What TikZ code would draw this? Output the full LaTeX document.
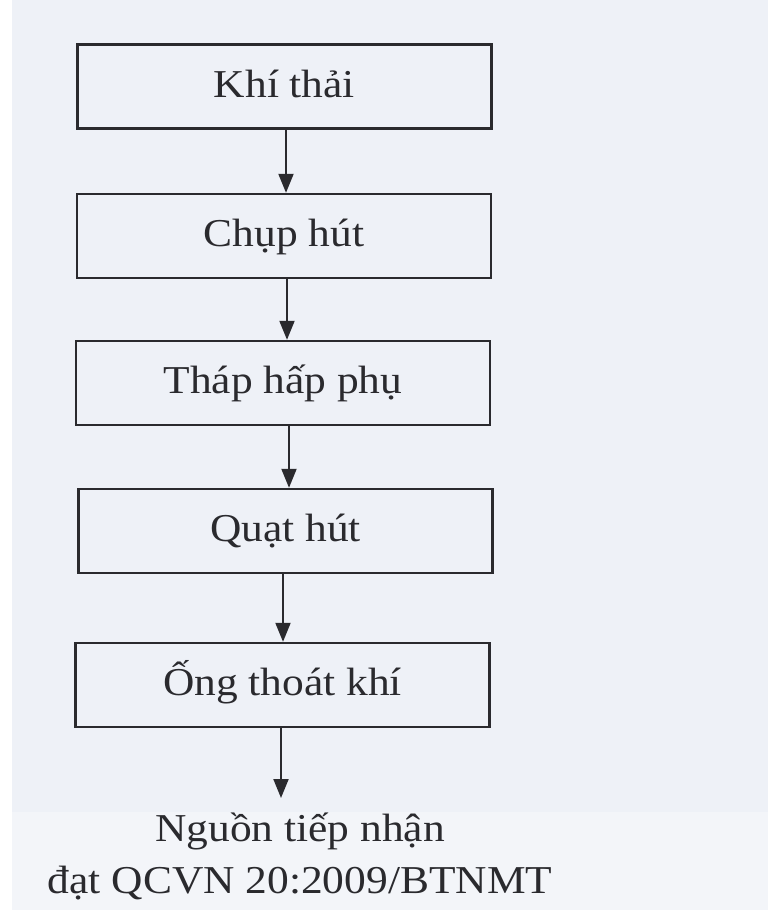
\documentclass[tikz,border=0pt]{standalone}
\usepackage{fontspec}
\setmainfont{Liberation Serif}[FakeStretch=1.1]
\usetikzlibrary{arrows.meta}
\definecolor{paper}{HTML}{EEF1F7}
\definecolor{paperlow}{HTML}{F3F5F9}
\definecolor{ink}{HTML}{2A2A2E}
\tikzset{
  stepbox/.style={draw=ink, line width=2.4pt, minimum width=414pt, minimum height=84pt,
    inner sep=0pt, text=ink, text height=28pt, text depth=7pt, font=\fontsize{39.5}{52}\selectfont},
  flow/.style={draw=ink, line width=2pt, -{Triangle[width=15pt,length=19pt]}},
  outtext/.style={align=center, inner sep=0pt, text=ink, font=\fontsize{39.5}{52}\selectfont}
}
\begin{document}
\begin{tikzpicture}[x=1pt,y=-1pt]
\useasboundingbox (0,0) rectangle (768,910);
\fill[paper] (0,0) rectangle (768,910);
\fill[white] (0,0) rectangle (12,910);
\fill[paperlow] (12,812) rectangle (768,910);
\node[stepbox] (b1) at (284.5,86.5) {Khí thải};
\node[stepbox] (b2) at (284,236) {Chụp hút};
\node[stepbox] (b3) at (283,383) {Tháp hấp phụ};
\node[stepbox] (b4) at (285.5,531) {Quạt hút};
\node[stepbox] (b5) at (282.5,685) {Ống thoát khí};
\coordinate (end) at (281,798);
\node[outtext] (out) at (300,856) {Nguồn tiếp nhận\\đạt QCVN 20:2009/BTNMT};
\draw[flow] ([xshift=1.5pt]b1.south) -- ([xshift=2pt]b2.north);
\draw[flow] ([xshift=3pt]b2.south) -- ([xshift=4pt]b3.north);
\draw[flow] ([xshift=6pt]b3.south) -- ([xshift=3.5pt]b4.north);
\draw[flow] ([xshift=-2.5pt]b4.south) -- ([xshift=0.5pt]b5.north);
\draw[flow] ([xshift=-1.5pt]b5.south) -- (end);
\end{tikzpicture}
\end{document}
